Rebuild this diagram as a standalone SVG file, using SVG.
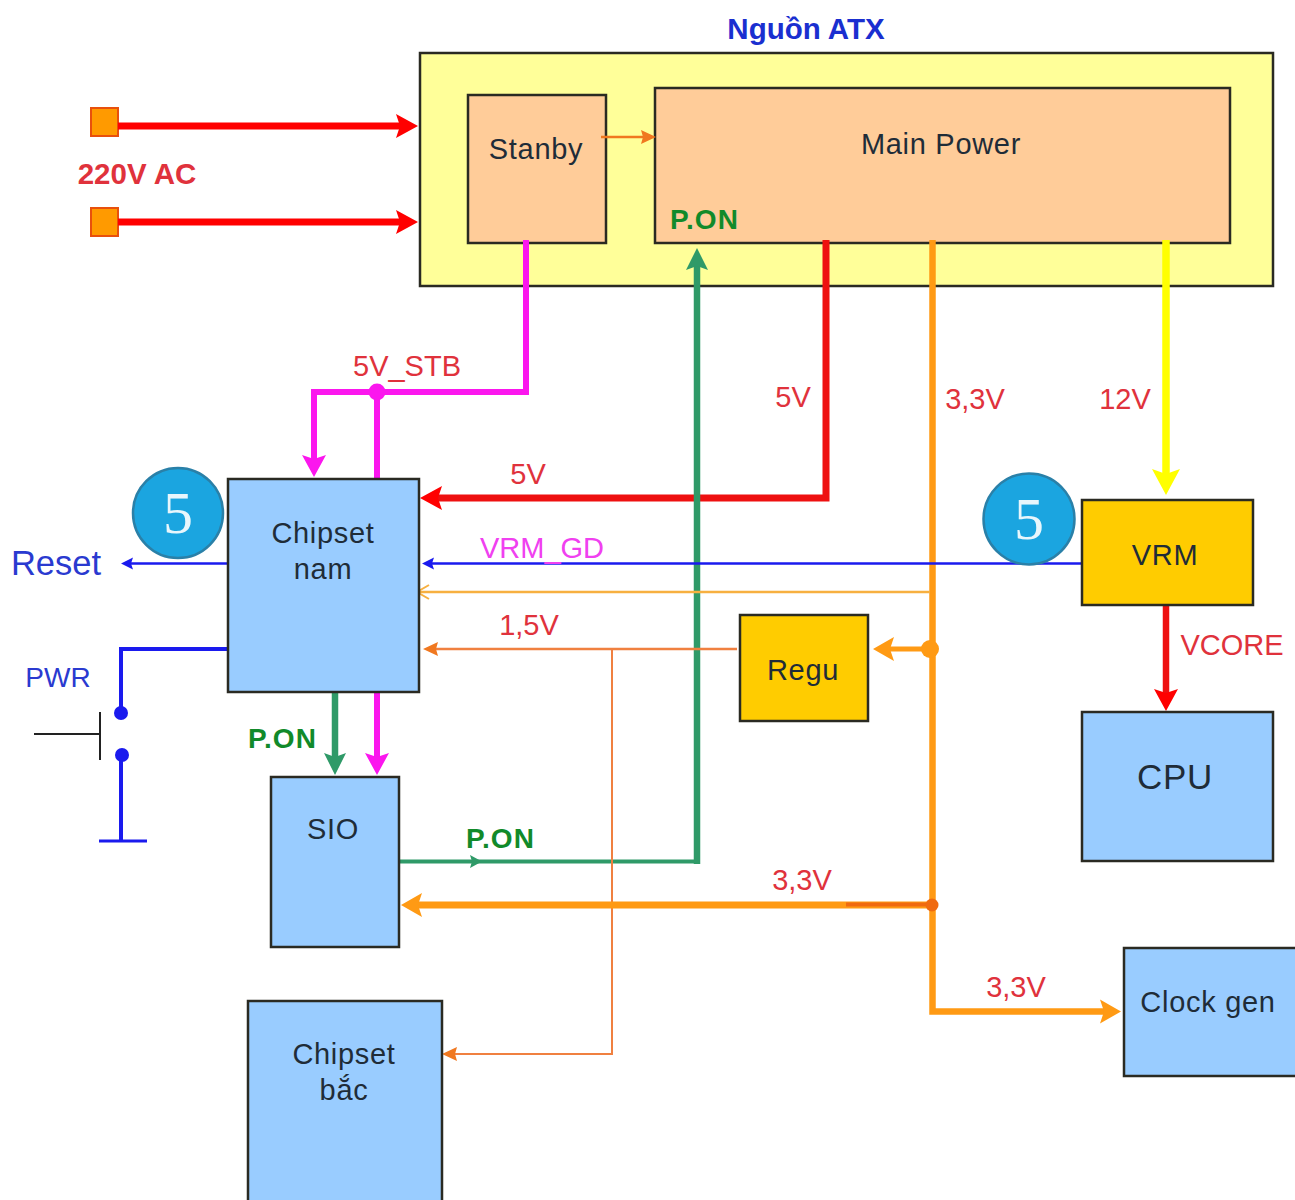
<svg xmlns="http://www.w3.org/2000/svg" width="1295" height="1200" viewBox="0 0 1295 1200">
<style>
text{font-family:"Liberation Sans",Arial,sans-serif}
.box{stroke:#2a2a22;stroke-width:2.5}
.blue{fill:#99ccff}.gold{fill:#ffcc00}.peach{fill:#ffcc99}
.lbl{font-size:29px;fill:#1f2c38;text-anchor:middle;letter-spacing:.7px}
.red{font-size:29px;fill:#e0323c;text-anchor:middle}
.pon{font-size:28px;font-weight:bold;fill:#118a2a;letter-spacing:1px}
.num{font-family:"Liberation Serif",serif;font-size:60px;fill:#e8f6fc;text-anchor:middle}
.c{fill:none;stroke-linejoin:miter}
</style>
<defs>
<marker id="mr" markerUnits="userSpaceOnUse" markerWidth="24" markerHeight="26" refX="8" refY="13" orient="auto"><path d="M0,1 L22,13 L0,25 L4,13Z" fill="#ff0000"/></marker>
<marker id="mm" markerUnits="userSpaceOnUse" markerWidth="24" markerHeight="26" refX="8" refY="13" orient="auto"><path d="M0,1 L22,13 L0,25 L4,13Z" fill="#fb16ee"/></marker>
<marker id="mg" markerUnits="userSpaceOnUse" markerWidth="24" markerHeight="26" refX="8" refY="13" orient="auto"><path d="M0,2 L22,13 L0,24 L4,13Z" fill="#2f9a68"/></marker>
<marker id="my" markerUnits="userSpaceOnUse" markerWidth="30" markerHeight="32" refX="10" refY="16" orient="auto"><path d="M0,2 L26,16 L0,30 L5,16Z" fill="#ffff00"/></marker>
<marker id="mo" markerUnits="userSpaceOnUse" markerWidth="24" markerHeight="26" refX="8" refY="13" orient="auto"><path d="M0,1 L21,13 L0,25 L4,13Z" fill="#ff9a14"/></marker>
<marker id="mb" markerUnits="userSpaceOnUse" markerWidth="14" markerHeight="14" refX="3" refY="7" orient="auto"><path d="M0,1 L12,7 L0,13 L2,7Z" fill="#1a1aee"/></marker>
<marker id="mt" markerUnits="userSpaceOnUse" markerWidth="16" markerHeight="16" refX="4" refY="8" orient="auto"><path d="M0,1 L15,8 L0,15 L2,8Z" fill="#f07820"/></marker>
<marker id="ml" markerUnits="userSpaceOnUse" markerWidth="16" markerHeight="18" refX="14" refY="9" orient="auto"><path d="M2,2 L14,9 L2,16" fill="none" stroke="#f7b040" stroke-width="2"/></marker>
</defs>
<rect width="1295" height="1200" fill="#fff"/>
<g id="atx"><rect class="box" x="420" y="53" width="853" height="233" fill="#ffff99"/><text x="806" y="39" font-size="29.5" font-weight="bold" fill="#1a2fd0" text-anchor="middle">Nguồn ATX</text></g>
<g id="stanby"><rect class="box peach" x="468" y="95" width="138" height="148"/><text class="lbl" x="536" y="159">Stanby</text></g>
<g id="main-power"><rect class="box peach" x="655" y="88" width="575" height="155"/><text class="lbl" x="941" y="154">Main Power</text><text class="pon" x="670" y="229">P.ON</text></g>
<g id="ac1"><rect x="91" y="108" width="27" height="28" fill="#ff9a00" stroke="#e8500c" stroke-width="2"/></g>
<g id="ac2"><rect x="91" y="208" width="27" height="28" fill="#ff9a00" stroke="#e8500c" stroke-width="2"/></g>
<g id="connectors">
<path class="c" d="M118,126H404" stroke="#ff0000" stroke-width="7" marker-end="url(#mr)"/>
<path class="c" d="M118,222H404" stroke="#ff0000" stroke-width="7" marker-end="url(#mr)"/>
<path class="c" d="M601,137H645" stroke="#f07820" stroke-width="2.5" marker-end="url(#mt)"/>
<path class="c" d="M526,240V392H314V463" stroke="#fb16ee" stroke-width="6" marker-end="url(#mm)"/>
<path class="c" d="M377,392V482" stroke="#fb16ee" stroke-width="6"/>
<circle cx="377" cy="392" r="8.5" fill="#fb16ee"/>
<path class="c" d="M826,240V498H434" stroke="#ee1010" stroke-width="7" marker-end="url(#mr)"/>
<path class="c" d="M932.5,240V1011.500H1108" stroke="#ff9a14" stroke-width="6.500" marker-end="url(#mo)"/>
<path class="c" d="M1166,240V479" stroke="#ffff00" stroke-width="7.500" marker-end="url(#my)"/>
<path class="c" d="M398,861.500H699" stroke="#2f9a68" stroke-width="4"/>
<path class="c" d="M697,864V262" stroke="#2f9a68" stroke-width="6.500" marker-end="url(#mg)"/>
<path d="M470,855L482,861.500L470,868L472,861.500Z" fill="#2f9a68"/>
<path class="c" d="M1082,563.500H431" stroke="#1a1aee" stroke-width="2.500" marker-end="url(#mb)"/>
<path class="c" d="M228,563.500H130" stroke="#1a1aee" stroke-width="2.500" marker-end="url(#mb)"/>
<path class="c" d="M930,592H417" stroke="#f7b040" stroke-width="2.500" marker-end="url(#ml)"/>
<path class="c" d="M737,649H434" stroke="#f08040" stroke-width="2.500" marker-end="url(#mt)"/>
<path class="c" d="M612,649V1054H453" stroke="#f08040" stroke-width="2" marker-end="url(#mt)"/>
<path class="c" d="M932,649H886" stroke="#ff9a14" stroke-width="5" marker-end="url(#mo)"/>
<circle cx="930" cy="649" r="9" fill="#ff9a14"/>
<path class="c" d="M932,905H414" stroke="#ff9a14" stroke-width="7" marker-end="url(#mo)"/>
<path class="c" d="M846,904.500H932" stroke="#f06a10" stroke-width="4"/>
<circle cx="932" cy="905" r="6.500" fill="#f06a10"/>
<path class="c" d="M1166,603V697" stroke="#ee1010" stroke-width="6.500" marker-end="url(#mr)"/>
<path class="c" d="M335,689V761" stroke="#2f9a68" stroke-width="6.500" marker-end="url(#mg)"/>
<path class="c" d="M377,687V761" stroke="#fb16ee" stroke-width="6" marker-end="url(#mm)"/>
<path class="c" d="M228,649H121V713" stroke="#1a1aee" stroke-width="4"/>
<circle cx="121" cy="713" r="7" fill="#1a1aee"/>
<circle cx="122" cy="755" r="7" fill="#1a1aee"/>
<path class="c" d="M121,755V841" stroke="#1a1aee" stroke-width="4"/>
<path class="c" d="M99,841H147" stroke="#1a1aee" stroke-width="3"/>
<path class="c" d="M34,734H100M100,712V760" stroke="#222" stroke-width="2"/>
</g>
<g id="chipset-nam"><rect class="box blue" x="228" y="479" width="191" height="213"/><text class="lbl" x="323" y="543">Chipset</text><text class="lbl" x="323" y="579">nam</text></g>
<g id="sio"><rect class="box blue" x="271" y="777" width="128" height="170"/><text class="lbl" x="333" y="839" letter-spacing="0">SIO</text></g>
<g id="chipset-bac"><rect class="box blue" x="248" y="1001" width="194" height="205"/><text class="lbl" x="344" y="1064">Chipset</text><text class="lbl" x="344" y="1100">bắc</text></g>
<g id="regu"><rect class="box gold" x="740" y="615" width="128" height="106"/><text class="lbl" x="803" y="680">Regu</text></g>
<g id="vrm"><rect class="box gold" x="1082" y="500" width="171" height="105"/><text class="lbl" x="1165" y="565" letter-spacing="0">VRM</text></g>
<g id="cpu"><rect class="box blue" x="1082" y="712" width="191" height="149"/><text class="lbl" x="1175" y="789" style="font-size:35px" letter-spacing="0">CPU</text></g>
<g id="clock-gen"><rect class="box blue" x="1124" y="948" width="175" height="128"/><text class="lbl" x="1208" y="1012">Clock gen</text></g>
<g id="badge1"><circle cx="178" cy="513" r="45" fill="#1ba5e0" stroke="#2a80a8" stroke-width="2.500"/><text class="num" x="178" y="533">5</text></g>
<g id="badge2"><circle cx="1029" cy="519" r="45.500" fill="#1ba5e0" stroke="#2a80a8" stroke-width="2.500"/><text class="num" x="1029" y="539">5</text></g>
<g id="labels">
<text x="137" y="184" font-size="29.500" font-weight="bold" fill="#e0323c" text-anchor="middle">220V AC</text>
<text class="red" x="407" y="376">5V_STB</text>
<text class="red" x="793" y="407">5V</text>
<text class="red" x="975" y="409">3,3V</text>
<text class="red" x="1125" y="409">12V</text>
<text class="red" x="528" y="484">5V</text>
<text x="542" y="558" font-size="29" fill="#f040f0" text-anchor="middle">VRM_GD</text>
<text class="red" x="529" y="635">1,5V</text>
<text class="red" x="1232" y="655">VCORE</text>
<text class="red" x="802" y="890">3,3V</text>
<text class="red" x="1016" y="997">3,3V</text>
<text x="56" y="575" font-size="34.500" fill="#2a3ad0" text-anchor="middle">Reset</text>
<text x="58" y="687" font-size="28" fill="#2a3ad0" text-anchor="middle">PWR</text>
<text class="pon" x="248" y="748">P.ON</text>
<text class="pon" x="466" y="848">P.ON</text>
</g>
</svg>
